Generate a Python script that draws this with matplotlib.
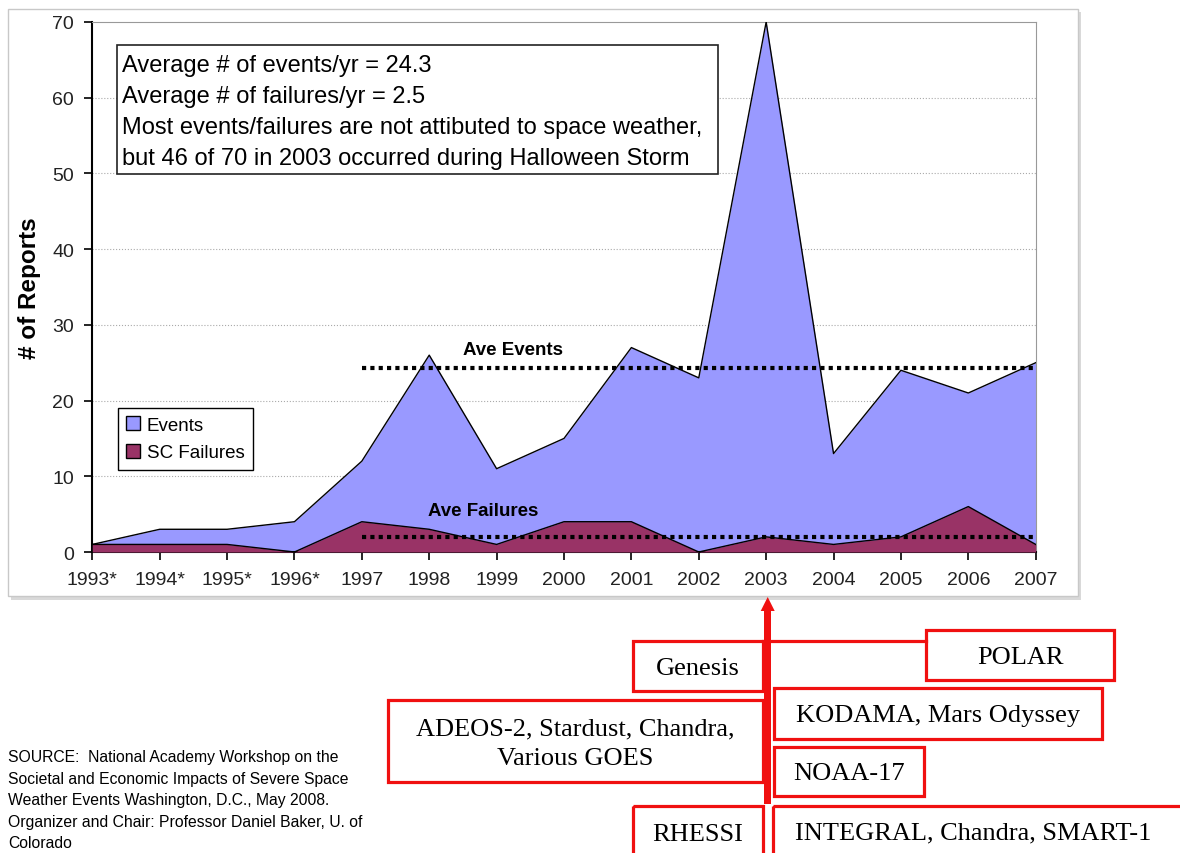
import numpy as np
import matplotlib.pyplot as plt
from matplotlib.patches import Rectangle, Polygon, Patch

years = ['1993*', '1994*', '1995*', '1996*', '1997', '1998', '1999', '2000',
         '2001', '2002', '2003', '2004', '2005', '2006', '2007']
events = [1, 3, 3, 4, 12, 26, 11, 15, 27, 23, 70, 13, 24, 21, 25]
failures = [1, 1, 1, 0, 4, 3, 1, 4, 4, 0, 2, 1, 2, 6, 1]
ave_events = 24.3
ave_failures = 2.0
ave_from = '1997'

note_lines = ['Average # of events/yr = 24.3',
              'Average # of failures/yr = 2.5',
              'Most events/failures are not attibuted to space weather,',
              'but 46 of 70 in 2003 occurred during Halloween Storm']

source_lines = ['SOURCE:  National Academy Workshop on the',
                'Societal and Economic Impacts of Severe Space',
                'Weather Events Washington, D.C., May 2008.',
                'Organizer and Chair: Professor Daniel Baker, U. of',
                'Colorado']

sat_labels = ['Genesis', 'POLAR', 'ADEOS-2, Stardust, Chandra,\nVarious GOES',
              'KODAMA, Mars Odyssey', 'NOAA-17', 'RHESSI',
              'INTEGRAL, Chandra, SMART-1']

# box layout in pixels (x0, y0, x1, y1), top-left origin
sat_boxes = [(633, 642, 763, 692), (926, 631, 1114, 681), (388, 701, 763, 783),
             (774, 689, 1102, 740), (774, 748, 924, 797), (633, 807, 763, 880),
             (773, 807, 1200, 880)]

W, H = 1180, 854
fig = plt.figure(figsize=(W / 100, H / 100), dpi=100)
plt.rcParams['font.family'] = ['Liberation Sans', 'DejaVu Sans']

# background layer: chart frame with shadow
bg = fig.add_axes([0, 0, 1, 1], zorder=0)
bg.set_xlim(0, W)
bg.set_ylim(H, 0)
bg.axis('off')
bg.add_patch(Rectangle((11, 13), 1070, 588, facecolor='#D9D9D9', edgecolor='none'))
bg.add_patch(Rectangle((8, 10), 1070, 587, facecolor='white', edgecolor='#C8C8C8', lw=1))

# main chart
ax = fig.add_axes([92.3 / W, 1 - 553 / H, 943.4 / W, 530 / H], zorder=1)
ax.set_facecolor('none')
x = np.arange(len(years))
ax.fill_between(x, 0, events, color='#9999FF', lw=0, zorder=2)
ax.plot(x, events, color='black', lw=1, zorder=3)
ax.fill_between(x, 0, failures, color='#993366', lw=0, zorder=4)
ax.plot(x, failures, color='black', lw=1, zorder=5)

i0 = years.index(ave_from)
ax.plot([i0, x[-1]], [ave_events, ave_events], color='black', lw=3,
        linestyle=(0, (1, 1)), zorder=6)
ax.plot([i0, x[-1]], [ave_failures, ave_failures], color='black', lw=3,
        linestyle=(0, (1, 1)), zorder=6)
ax.text(6.24, 26.7, 'Ave Events', ha='center', va='center', fontsize=13.5,
        fontweight='bold', zorder=7)
ax.text(5.8, 5.45, 'Ave Failures', ha='center', va='center', fontsize=13.5,
        fontweight='bold', zorder=7)

ax.set_xlim(0, len(years) - 1)
ax.set_ylim(0, 70)
ax.set_xticks(x)
ax.set_xticklabels(years)
ax.set_yticks(range(0, 71, 10))
ax.tick_params(axis='both', labelsize=14, labelcolor='#222222', direction='out',
               length=6, width=1.2)
ax.tick_params(axis='x', pad=8)
ax.tick_params(axis='y', pad=7)
for v in range(10, 70, 10):
    ax.axhline(v, color='#AAAAAA', lw=0.8, linestyle=':', zorder=1)
ax.spines['left'].set_linewidth(1.5)
ax.spines['bottom'].set_linewidth(1.5)
ax.spines['top'].set_color('#999999')
ax.spines['right'].set_color('#999999')
ax.set_ylabel('# of Reports', fontsize=17.5, fontweight='bold', labelpad=8)

handles = [Patch(facecolor='#9999FF', edgecolor='black', label='Events'),
           Patch(facecolor='#993366', edgecolor='black', label='SC Failures')]
leg = ax.legend(handles=handles, loc='upper left', bbox_to_anchor=(0.027, 0.272),
                fontsize=13.5, fancybox=False, edgecolor='black', framealpha=1,
                handlelength=0.75, handleheight=0.75, handletextpad=0.35,
                borderpad=0.45, labelspacing=0.55, borderaxespad=0)
leg.get_frame().set_linewidth(1)
leg.set_zorder(8)

# overlay layer for notes, boxes and arrow
ov = fig.add_axes([0, 0, 1, 1], zorder=2)
ov.set_facecolor('none')
ov.set_xlim(0, W)
ov.set_ylim(H, 0)
ov.axis('off')

ov.add_patch(Rectangle((117, 46), 601, 129, facecolor='white', edgecolor='#222222', lw=1.2))
for k, line in enumerate(note_lines):
    ov.text(122, 66 + k * 31, line, ha='left', va='center', fontsize=17)

for k, line in enumerate(source_lines):
    ov.text(8, 758 + k * 21.5, line, ha='left', va='center', fontsize=11.3,
            family=['Liberation Sans Narrow', 'Liberation Sans'])

red = '#F01010'
for label, (x0, y0, x1, y1) in zip(sat_labels, sat_boxes):
    ov.add_patch(Rectangle((x0, y0), x1 - x0, y1 - y0, facecolor='none',
                           edgecolor=red, lw=2.3, clip_on=False))
    if label.startswith('INTEGRAL'):
        ov.text(795, 833, label, ha='left', va='center', fontsize=19,
                family=['Liberation Serif'])
    else:
        cy = (y0 + y1) / 2 if y1 < H else 833
        ov.text((x0 + x1) / 2, cy + 2, label, ha='center', va='center', fontsize=19,
                family=['Liberation Serif'], linespacing=1.45)
ov.plot([763, 926], [642, 642], color=red, lw=2.3)

# arrow up to 2003
ov.add_patch(Rectangle((764.2, 610), 7, 195, facecolor=red, edgecolor='none'))
ov.add_patch(Polygon([(760.7, 612), (774.7, 612), (767.7, 598)], closed=True,
                     facecolor=red, edgecolor='none'))

fig.savefig('out.png', dpi=100)
